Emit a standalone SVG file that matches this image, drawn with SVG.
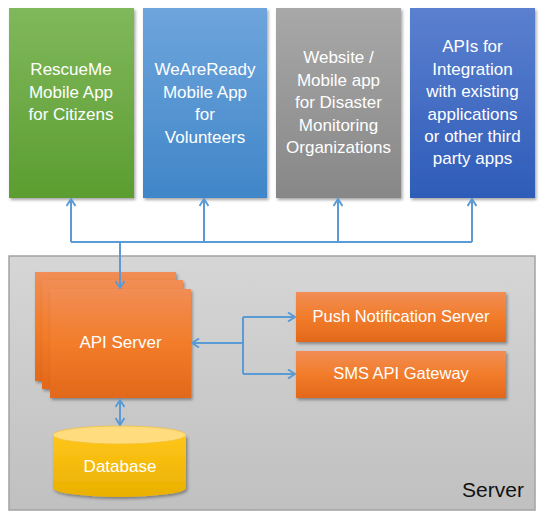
<svg xmlns="http://www.w3.org/2000/svg" width="547" height="519" viewBox="0 0 547 519">
<defs>
<linearGradient id="gGreen" x1="0" y1="0" x2="0" y2="1"><stop offset="0" stop-color="#80b85c"/><stop offset="1" stop-color="#5c9d30"/></linearGradient>
<linearGradient id="gBlue" x1="0" y1="0" x2="0" y2="1"><stop offset="0" stop-color="#6ea5dc"/><stop offset="1" stop-color="#4086c8"/></linearGradient>
<linearGradient id="gGray" x1="0" y1="0" x2="0" y2="1"><stop offset="0" stop-color="#a8a8a8"/><stop offset="1" stop-color="#878787"/></linearGradient>
<linearGradient id="gNavy" x1="0" y1="0" x2="0" y2="1"><stop offset="0" stop-color="#5b80d0"/><stop offset="1" stop-color="#2e5cb8"/></linearGradient>
<linearGradient id="gOrange" x1="0" y1="0" x2="0" y2="1"><stop offset="0" stop-color="#f18d55"/><stop offset="0.5" stop-color="#f27c2a"/><stop offset="1" stop-color="#e2681a"/></linearGradient>
<linearGradient id="gServer" x1="0" y1="0" x2="0" y2="1"><stop offset="0" stop-color="#d6d6d6"/><stop offset="1" stop-color="#c0c0c0"/></linearGradient>
<linearGradient id="gDb" x1="0" y1="0" x2="0" y2="1"><stop offset="0" stop-color="#ffc61a"/><stop offset="1" stop-color="#e9b000"/></linearGradient>
<filter id="shadow" x="-10%" y="-10%" width="125%" height="125%">
<feDropShadow dx="1.5" dy="2" stdDeviation="1.5" flood-color="#000" flood-opacity="0.35"/>
</filter>
<marker id="arr" viewBox="0 0 10 10" refX="9" refY="5" markerWidth="10" markerHeight="10" markerUnits="userSpaceOnUse" orient="auto-start-reverse">
<path d="M2,0.5 L9,5 L2,9.5" fill="none" stroke="#5b9bd5" stroke-width="2"/>
</marker>
</defs>
<style>
.lbl{font-family:"Liberation Sans",Arial,sans-serif;font-size:17px;fill:#ffffff;text-anchor:middle}
.conn{fill:none;stroke:#5b9bd5;stroke-width:2}
</style>

<g id="server">
<rect x="9" y="256" width="526" height="254" fill="url(#gServer)" stroke="#a3a3a3" stroke-width="1.5"/>
<text x="493" y="497" font-family="'Liberation Sans',Arial,sans-serif" font-size="21" fill="#111" text-anchor="middle">Server</text>
</g>

<g id="rescueme">
<rect x="9" y="8" width="125" height="190" fill="url(#gGreen)" filter="url(#shadow)"/>
<text class="lbl" x="71" y="75">RescueMe</text>
<text class="lbl" x="71" y="97.5">Mobile App</text>
<text class="lbl" x="71" y="120">for Citizens</text>
</g>

<g id="weareready">
<rect x="143" y="8" width="124" height="190" fill="url(#gBlue)" filter="url(#shadow)"/>
<text class="lbl" x="205" y="75">WeAreReady</text>
<text class="lbl" x="205" y="97.5">Mobile App</text>
<text class="lbl" x="205" y="120">for</text>
<text class="lbl" x="205" y="142.5">Volunteers</text>
</g>

<g id="website">
<rect x="276" y="8" width="125" height="190" fill="url(#gGray)" filter="url(#shadow)"/>
<text class="lbl" x="338.5" y="63">Website /</text>
<text class="lbl" x="338.5" y="85.5">Mobile app</text>
<text class="lbl" x="338.5" y="108">for Disaster</text>
<text class="lbl" x="338.5" y="130.5">Monitoring</text>
<text class="lbl" x="338.5" y="153">Organizations</text>
</g>

<g id="apis">
<rect x="410" y="8" width="125" height="190" fill="url(#gNavy)" filter="url(#shadow)"/>
<text class="lbl" x="472.5" y="52">APIs for</text>
<text class="lbl" x="472.5" y="74.5">Integration</text>
<text class="lbl" x="472.5" y="97">with existing</text>
<text class="lbl" x="472.5" y="119.5">applications</text>
<text class="lbl" x="472.5" y="142">or other third</text>
<text class="lbl" x="472.5" y="164">party apps</text>
</g>

<g id="apiserver">
<rect x="35" y="272" width="141" height="109" fill="url(#gOrange)" filter="url(#shadow)"/>
<rect x="42" y="280" width="141" height="109" fill="url(#gOrange)" filter="url(#shadow)"/>
<rect x="50" y="289" width="141" height="109" fill="url(#gOrange)" filter="url(#shadow)"/>
<text class="lbl" x="120.5" y="348">API Server</text>
</g>

<g id="push">
<rect x="296" y="292" width="210" height="50" fill="url(#gOrange)" filter="url(#shadow)"/>
<text class="lbl" x="401" y="322" font-size="16.5" style="font-size:16.5px">Push Notification Server</text>
</g>

<g id="sms">
<rect x="296" y="351" width="210" height="47" fill="url(#gOrange)" filter="url(#shadow)"/>
<text class="lbl" x="401" y="379" style="font-size:16.5px">SMS API Gateway</text>
</g>

<g id="database">
<path d="M53,435 V488 A66.5,9 0 0 0 186,488 V435 Z" fill="url(#gDb)" filter="url(#shadow)"/>
<ellipse cx="119.5" cy="435" rx="66.5" ry="9" fill="#ffdd7f" stroke="#f3c23a" stroke-width="0.8"/>
<text class="lbl" x="120" y="472">Database</text>
</g>

<g id="connectors">
<path class="conn" d="M71,242 H472"/>
<path class="conn" d="M71,242 V199" marker-end="url(#arr)"/>
<path class="conn" d="M204,242 V199" marker-end="url(#arr)"/>
<path class="conn" d="M338,242 V199" marker-end="url(#arr)"/>
<path class="conn" d="M472,242 V199" marker-end="url(#arr)"/>
<path class="conn" d="M120,242 V288" marker-end="url(#arr)"/>
<path class="conn" d="M243,343 H192" marker-end="url(#arr)"/>
<path class="conn" d="M243,317 V374"/>
<path class="conn" d="M243,317 H295" marker-end="url(#arr)"/>
<path class="conn" d="M243,374 H295" marker-end="url(#arr)"/>
<path class="conn" d="M120,400 V425" marker-start="url(#arr)" marker-end="url(#arr)"/>
</g>
</svg>
